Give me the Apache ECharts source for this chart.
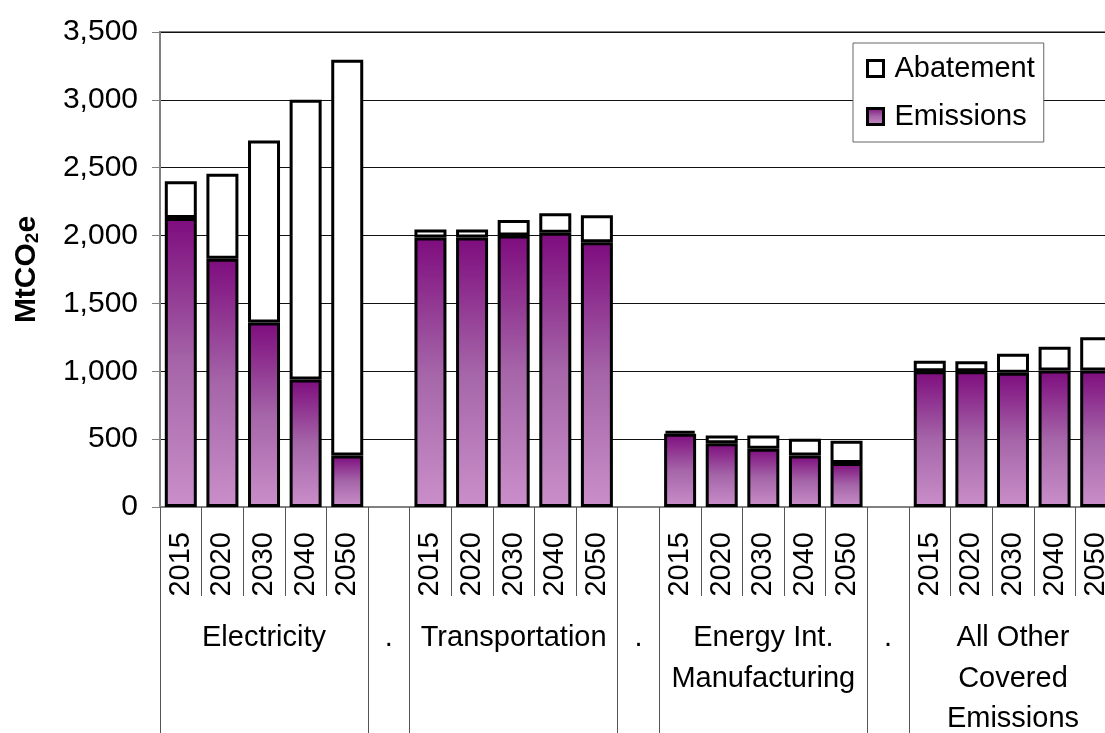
<!DOCTYPE html>
<html>
<head>
<meta charset="utf-8">
<script src="https://cdn.jsdelivr.net/npm/echarts@6/dist/echarts.min.js"></script>
<style>
html,body{margin:0;padding:0;background:#fff;}
#chart{width:1105px;height:733px;}
</style>
</head>
<body>
<div id="chart"></div>
<script>
// ---- data ----
var years = ['2015', '2020', '2030', '2040', '2050'];
var groupNames = ['Electricity', 'Transportation', 'Energy Int.\nManufacturing', 'All Other\nCovered\nEmissions'];
var separatorLabel = '.';

var electricityEmissions = [2130, 1830, 1360, 940, 380];
var electricityAbatement = [270, 625, 1340, 2060, 2915];
var transportationEmissions = [1985, 1985, 2000, 2020, 1950];
var transportationAbatement = [60, 60, 115, 145, 200];
var energyIntEmissions = [540, 470, 430, 380, 325];
var energyIntAbatement = [20, 57, 97, 123, 164];
var otherEmissions = [1000, 1000, 990, 1005, 1005];
var otherAbatement = [78, 74, 140, 176, 245];

var yTicks = [0, 500, 1000, 1500, 2000, 2500, 3000, 3500];

// ---- build axis categories & series ----
var emGroups = [electricityEmissions, transportationEmissions, energyIntEmissions, otherEmissions];
var abGroups = [electricityAbatement, transportationAbatement, energyIntAbatement, otherAbatement];
var yearCats = [], groupCats = [], emData = [], abData = [], boundaries = [];
for (var g = 0; g < groupNames.length; g++) {
  boundaries.push(yearCats.length);
  for (var i = 0; i < years.length; i++) {
    yearCats.push(years[i]);
    groupCats.push(i === 2 ? groupNames[g] : '');
    emData.push(emGroups[g][i]);
    abData.push(abGroups[g][i]);
  }
  if (g < groupNames.length - 1) {
    boundaries.push(yearCats.length);
    yearCats.push('');
    groupCats.push(separatorLabel);
    emData.push('-');
    abData.push('-');
  }
}

var FONT = 'Liberation Sans, Arial, sans-serif';
var emGradient = new echarts.graphic.LinearGradient(0, 0, 0, 1, [
  { offset: 0, color: '#7E0C7E' },
  { offset: 0.5, color: '#A565A8' },
  { offset: 1, color: '#CA8FCA' }
]);

var chart = echarts.init(document.getElementById('chart'), null, { renderer: 'canvas' });
chart.setOption({
  animation: false,
  backgroundColor: '#fff',
  textStyle: { fontFamily: FONT },
  grid: {
    left: 160, top: 32, width: 957, height: 475,
    show: true, borderColor: '#808080', borderWidth: 2,
    containLabel: false, outerBoundsMode: 'none'
  },
  legend: {
    orient: 'vertical',
    left: 853, top: 43,
    padding: [11, 9, 11, 13],
    itemGap: 19,
    itemWidth: 16, itemHeight: 16,
    icon: 'rect',
    borderColor: '#666', borderWidth: 1, backgroundColor: '#fff',
    textStyle: { fontSize: 29, color: '#000', fontFamily: FONT, lineHeight: 29, padding: [0, 0, 0, 6] },
    data: [
      { name: 'Abatement', itemStyle: { color: '#fff', borderColor: '#000', borderWidth: 3 } },
      { name: 'Emissions', itemStyle: { color: emGradient, borderColor: '#000', borderWidth: 3 } }
    ]
  },
  xAxis: [
    {
      type: 'category',
      data: yearCats,
      position: 'bottom',
      axisLine: { show: true, lineStyle: { color: '#808080', width: 2 } },
      axisTick: { show: true, interval: 0, length: 89, lineStyle: { color: '#555', width: 1 } },
      axisLabel: { interval: 0, rotate: 90, margin: 25, fontSize: 29, color: '#000', fontFamily: FONT },
      splitLine: { show: false }
    },
    {
      type: 'category',
      data: groupCats,
      position: 'bottom',
      axisLine: { show: false },
      axisTick: {
        show: true, length: 226,
        interval: function (idx) { return boundaries.indexOf(idx) >= 0; },
        lineStyle: { color: '#555', width: 1 }
      },
      axisLabel: { interval: 0, margin: 111, fontSize: 29, lineHeight: 40.5, color: '#000', fontFamily: FONT, align: 'center' },
      splitLine: { show: false }
    }
  ],
  yAxis: {
    type: 'value',
    min: yTicks[0], max: yTicks[yTicks.length - 1], interval: 500,
    name: '{a|MtCO}{b|2}{a|e}',
    nameLocation: 'middle',
    nameGap: 118,
    nameTextStyle: {
      rich: {
        a: { fontSize: 30, fontWeight: 'bold', color: '#000', fontFamily: FONT },
        b: { fontSize: 19, fontWeight: 'bold', color: '#000', fontFamily: FONT, verticalAlign: 'bottom', padding: [12, 0, 0, 0] }
      }
    },
    axisLine: { show: true, lineStyle: { color: '#808080', width: 2 } },
    axisTick: { show: true, length: 8, lineStyle: { color: '#808080', width: 1 } },
    axisLabel: {
      margin: 22, fontSize: 30, color: '#000', fontFamily: FONT,
      formatter: function (v) { return v.toLocaleString('en-US'); }
    },
    splitLine: { show: true, lineStyle: { color: '#111', width: 1 } }
  },
  series: [
    {
      name: 'Emissions', type: 'bar', stack: 'total', xAxisIndex: 0,
      barWidth: 32,
      data: emData,
      itemStyle: { color: emGradient, borderColor: '#000', borderWidth: 3 }
    },
    {
      name: 'Abatement', type: 'bar', stack: 'total', xAxisIndex: 0,
      barWidth: 32,
      data: abData,
      itemStyle: { color: '#fff', borderColor: '#000', borderWidth: 3 }
    }
  ]
});
</script>
</body>
</html>
